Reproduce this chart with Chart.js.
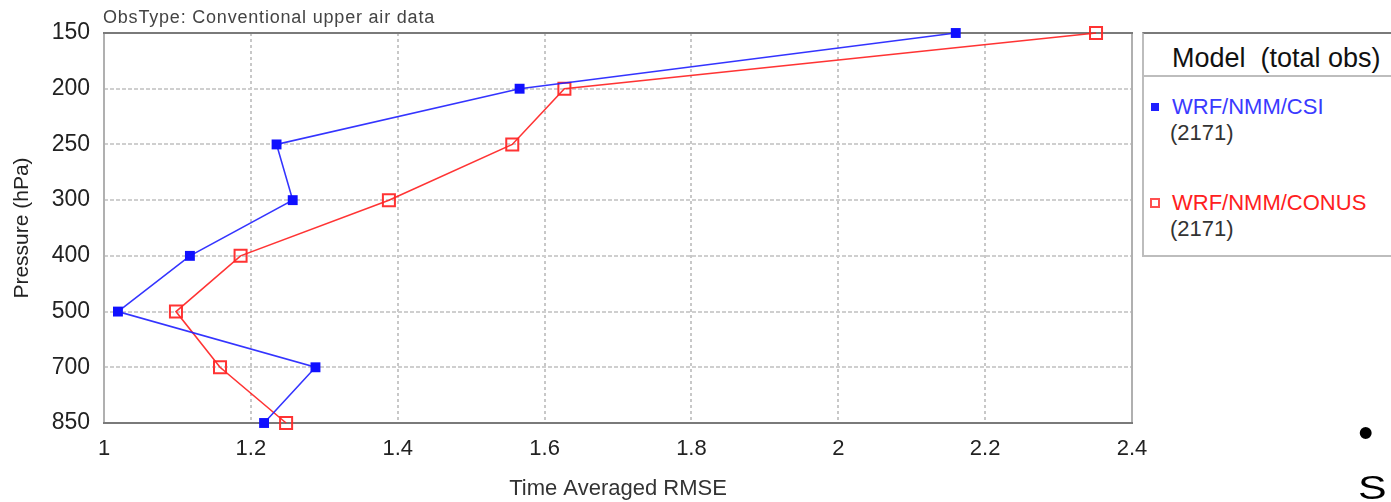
<!DOCTYPE html>
<html>
<head>
<meta charset="utf-8">
<script src="https://cdn.jsdelivr.net/npm/chart.js@4.4.1/dist/chart.umd.min.js"></script>
<style>
  html,body{margin:0;padding:0;background:#fff;}
  #wrap{position:relative;width:1391px;height:502px;overflow:hidden;font-family:"Liberation Sans",Arial,sans-serif;}
  #c{position:absolute;left:0;top:0;}
  .t{position:absolute;white-space:nowrap;line-height:1;}
  #legend{position:absolute;left:1142px;top:32px;width:262px;height:221px;border-top:2px solid #7a7a7a;border-left:2px solid #bdbdbd;border-bottom:2px solid #bdbdbd;background:#fff;}
  #legsep{position:absolute;left:0;top:41px;width:100%;height:2px;background:#bdbdbd;}
  .mk{position:absolute;}
</style>
</head>
<body>
<div id="wrap">
  <canvas id="c" width="1391" height="502"></canvas>
  <div class="t" style="left:103px;top:8px;font-size:18px;letter-spacing:0.8px;color:#444;">ObsType: Conventional upper air data</div>
  <div id="legend">
    <div class="t" style="left:28px;top:11px;font-size:27px;color:#111;">Model&nbsp;&nbsp;(total obs)</div>
    <div id="legsep"></div>
    <div class="mk" style="left:7px;top:69px;width:8px;height:8px;background:#2020ff;"></div>
    <div class="t" style="left:28px;top:62px;font-size:22px;color:#3a3aff;">WRF/NMM/CSI</div>
    <div class="t" style="left:26px;top:88px;font-size:22px;color:#333;">(2171)</div>
    <div class="mk" style="left:6px;top:164px;width:6px;height:6px;border:2px solid #ff5050;"></div>
    <div class="t" style="left:28px;top:158px;font-size:22px;color:#ff2020;">WRF/NMM/CONUS</div>
    <div class="t" style="left:26px;top:184px;font-size:22px;color:#333;">(2171)</div>
  </div>
  <div class="t" style="left:1358px;top:411px;font-size:44px;color:#000;">•</div>
  <div class="t" style="left:1358px;top:471px;font-size:33px;color:#000;transform:scaleX(1.3);transform-origin:left top;">S</div>
</div>
<script>
// Pressure levels (hPa), top to bottom
const levels = ['150', '200', '250', '300', '400', '500', '700', '850'];
// Time averaged RMSE per level
const csiValues   = [2.16, 1.566, 1.235, 1.257, 1.117, 1.019, 1.288, 1.218];
const conusValues = [2.351, 1.627, 1.556, 1.388, 1.186, 1.098, 1.158, 1.248];
const seriesNames = ['WRF/NMM/CSI', 'WRF/NMM/CONUS'];
const xTicks = [1, 1.2, 1.4, 1.6, 1.8, 2, 2.2, 2.4];

const toPts = vals => vals.map((v, i) => ({x: v, y: i}));

const framePlugin = {
  id: 'frame',
  beforeDatasetsDraw(chart) {
    const a = chart.chartArea, ctx = chart.ctx;
    ctx.save();
    ctx.lineWidth = 2;
    ctx.strokeStyle = '#b0b0b0';
    ctx.beginPath();
    ctx.moveTo(a.left, a.top); ctx.lineTo(a.left, a.bottom);
    ctx.moveTo(a.right, a.top); ctx.lineTo(a.right, a.bottom);
    ctx.stroke();
    ctx.strokeStyle = '#7a7a7a';
    ctx.beginPath();
    ctx.moveTo(a.left - 1, a.top); ctx.lineTo(a.right + 1, a.top);
    ctx.moveTo(a.left - 1, a.bottom); ctx.lineTo(a.right + 1, a.bottom);
    ctx.stroke();
    ctx.restore();
  }
};

new Chart(document.getElementById('c'), {
  type: 'scatter',
  data: {
    datasets: [
      {
        label: seriesNames[1],
        data: toPts(conusValues),
        showLine: true,
        clip: false,
        borderColor: 'rgba(255,30,30,0.9)',
        borderWidth: 1.6,
        pointStyle: 'rect',
        pointRadius: 8.5,
        pointBorderWidth: 2,
        pointBorderColor: 'rgba(255,40,40,0.95)',
        pointBackgroundColor: 'rgba(255,255,255,0)',
        order: 2
      },
      {
        label: seriesNames[0],
        data: toPts(csiValues),
        showLine: true,
        clip: false,
        borderColor: 'rgba(30,30,255,0.9)',
        borderWidth: 1.6,
        pointStyle: 'rect',
        pointRadius: 7,
        pointBorderWidth: 0,
        pointBorderColor: '#1010ff',
        pointBackgroundColor: '#1010ff',
        order: 1
      }
    ]
  },
  options: {
    responsive: false,
    animation: false,
    layout: {padding: {top: 33, right: 259, left: 0, bottom: 0}},
    plugins: {legend: {display: false}, tooltip: {enabled: false}},
    scales: {
      x: {
        type: 'linear',
        min: 1, max: 2.4,
        afterFit(s) { s.height = 79; },
        afterBuildTicks(s) { s.ticks = xTicks.map(v => ({value: v})); },
        ticks: {
          font: {family: 'Liberation Sans', size: 22},
          color: '#222',
          padding: 13,
          callback: v => String(v)
        },
        grid: {color: '#c8c8c8', lineWidth: 2, drawTicks: false},
        border: {display: false, dash: [3, 3]},
        title: {
          display: true, text: 'Time Averaged RMSE',
          font: {family: 'Liberation Sans', size: 22},
          color: '#333',
          padding: {top: 0, bottom: 0}
        }
      },
      y: {
        type: 'linear',
        min: 0, max: levels.length - 1,
        reverse: true,
        afterFit(s) { s.width = 104; },
        afterBuildTicks(s) { s.ticks = levels.map((l, i) => ({value: i})); },
        ticks: {
          font: {family: 'Liberation Sans', size: 23},
          color: '#222',
          padding: 14,
          callback: v => levels[v]
        },
        grid: {color: '#cfcfcf', lineWidth: 2, drawTicks: false},
        border: {display: false, dash: [4, 2]},
        title: {
          display: true, text: 'Pressure (hPa)',
          font: {family: 'Liberation Sans', size: 21},
          color: '#222',
          padding: {top: 10, bottom: 0}
        }
      }
    }
  },
  plugins: [framePlugin]
});
</script>
</body>
</html>
